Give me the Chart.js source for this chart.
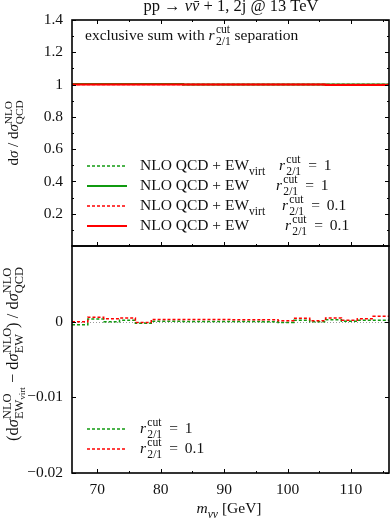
<!DOCTYPE html>
<html>
<head>
<meta charset="utf-8">
<script src="https://cdn.jsdelivr.net/npm/chart.js@4.4.0/dist/chart.umd.min.js"></script>
<style>
  html, body { margin: 0; padding: 0; background: #fff; }
  #wrap { position: relative; width: 390px; height: 519px; }
  #wrap canvas { position: absolute; left: 0; top: 0; }
</style>
</head>
<body>
<div id="wrap">
  <canvas id="upper" width="390" height="519"></canvas>
  <canvas id="lower" width="390" height="519"></canvas>
</div>
<script>
// m_nunu bin edges [GeV]
const binEdges = [66, 68.5, 71, 73.5, 76, 78.5, 81, 83.5, 86, 88.5, 91, 93.5, 96, 98.5, 101, 103.5, 106, 108.5, 111, 113.5, 116];

// upper panel: ratio to NLO QCD
const qcdEwVirtR1  = [1.003, 1.003, 1.003, 1.003, 1.003, 1.003, 1.003, 1.000, 1.000, 1.000, 1.000, 1.000, 1.000, 1.000, 1.000, 1.000, 1.000, 1.000, 1.000, 1.000];
const qcdEwR1      = [1.003, 1.003, 1.003, 1.003, 1.003, 1.003, 1.003, 1.000, 1.000, 1.000, 1.000, 1.000, 1.000, 1.000, 1.000, 1.000, 1.000, 1.000, 1.000, 1.000];
const qcdEwVirtR01 = [1.000, 1.000, 1.000, 1.000, 1.000, 1.000, 1.000, 1.000, 1.000, 1.000, 1.000, 1.000, 1.000, 1.000, 1.000, 1.000, 1.000, 1.000, 1.000, 1.000];
const qcdEwR01     = [1.000, 1.000, 1.000, 1.000, 1.000, 1.000, 1.000, 1.000, 1.000, 1.000, 1.000, 1.000, 1.000, 1.000, 1.000, 1.000, 0.998, 0.998, 0.998, 0.998];

// lower panel: (EW_virt - EW) / QCD
const diffR1  = [-0.0004, 0.00035, 0.0, 0.0002, -0.0002, 0.00005, 0.00005, 0.00003, 0.00003, 0.00003, 0.00003, 0.00003, 0.0, -0.0001, 0.0002, 0.0, 0.00025, 0.00005, 0.0002, 0.0002];
const diffR01 = [0.0, 0.0006, 0.0004, 0.0005, -0.0001, 0.0003, 0.00028, 0.00028, 0.00028, 0.00028, 0.00026, 0.00026, 0.00024, 0.00013, 0.00045, 0.00013, 0.0005, 0.0002, 0.0004, 0.0007];

// axes
const xMajor = [70, 80, 90, 100, 110];
const xMinor = [75, 85, 95, 105, 115];
const yUpperMajor = [0.2, 0.4, 0.6, 0.8, 1, 1.2, 1.4];
const yUpperMinor = [0.1, 0.3, 0.5, 0.7, 0.9, 1.1, 1.3];
const yLowerMajor = [-0.02, -0.01, 0];
const zeroLine = 0;

const GREEN = '#109a10';
const RED = '#ff0000';
const FONT = '"Liberation Serif", "DejaVu Serif", serif';
const TXT = 15.5;

// ---------- small math-text helper ----------
const sup = (t) => ({ t, s: 0.75, dy: -0.42 });
const sub = (t) => ({ t, s: 0.75, dy: 0.3 });
const it = (t) => ({ t, it: true });
const EQ = '\u2009 = \u2009';

function runText(ctx, parts, size, draw, x, y) {
  let cx = x;
  for (const p of parts) {
    if (p.stack) {
      let w = 0;
      for (const row of p.stack) w = Math.max(w, runText(ctx, row, size, draw, cx, y));
      cx += w;
    } else {
      const s = size * (p.s || 1);
      ctx.font = (p.it ? 'italic ' : '') + s + 'px ' + FONT;
      const w = ctx.measureText(p.t).width;
      if (draw) {
        ctx.fillText(p.t, cx, y + (p.dy || 0) * size);
        if (p.bar) ctx.fillRect(cx + w * 0.3, y - s * 0.6, w * 0.65, Math.max(0.8, s * 0.055));
      }
      cx += w;
    }
  }
  return cx - x;
}

function drawText(ctx, parts, size, x, y, align = 'left', rotate = false) {
  ctx.save();
  ctx.fillStyle = '#111';
  ctx.textBaseline = 'alphabetic';
  ctx.textAlign = 'left';
  ctx.translate(x, y);
  if (rotate) ctx.rotate(-Math.PI / 2);
  const w = runText(ctx, parts, size, false, 0, 0);
  const x0 = align === 'center' ? -w / 2 : 0;
  runText(ctx, parts, size, true, x0, 0);
  ctx.restore();
}

const rCut = [it('r'), { t: '\u200a' }, { stack: [[sup('cut')], [sub('2/1')]] }];

// ---------- helpers ----------
// value i covers [binEdges[i], binEdges[i+1]]
function steps(vals) {
  return binEdges.map((e, i) => ({ x: e, y: vals[Math.min(i, vals.length - 1)] }));
}

function fmt(v) {
  return String(v).replace('-', '\u2212');
}

// frame and inward ticks on every side
const frameTicks = {
  id: 'frameTicks',
  afterDatasetsDraw(chart, args, opts) {
    const { ctx, chartArea: a, scales } = chart;
    const xs = scales.x, ys = scales.y;
    ctx.save();
    ctx.strokeStyle = '#000';
    ctx.lineWidth = 1;
    ctx.beginPath();
    const tick = (list, len) => {
      list.forEach(v => {
        const px = Math.round(xs.getPixelForValue(v)) + 0.5;
        if (opts.top) { ctx.moveTo(px, a.top); ctx.lineTo(px, a.top + len); }
        ctx.moveTo(px, a.bottom); ctx.lineTo(px, a.bottom - len);
      });
    };
    const ytick = (list, len) => {
      list.forEach(v => {
        const py = Math.round(ys.getPixelForValue(v)) + 0.5;
        ctx.moveTo(a.left, py); ctx.lineTo(a.left + len, py);
        ctx.moveTo(a.right, py); ctx.lineTo(a.right - len, py);
      });
    };
    tick(xMajor, 4);
    tick(xMinor, 2);
    ytick(opts.yMajor, 4);
    ytick(opts.yMinor || [], 2);
    ctx.stroke();
    ctx.lineWidth = 1.6;
    ctx.strokeRect(a.left, a.top, a.right - a.left, a.bottom - a.top);
    ctx.restore();
  }
};

function legendLine(ctx, ds, y) {
  ctx.save();
  ctx.strokeStyle = ds.borderColor;
  ctx.lineWidth = ds.borderWidth;
  ctx.setLineDash(ds.borderDash || []);
  ctx.beginPath();
  ctx.moveTo(87, y);
  ctx.lineTo(127, y);
  ctx.stroke();
  ctx.restore();
}

const upperTexts = {
  id: 'upperTexts',
  afterDraw(chart) {
    const ctx = chart.ctx;
    const ds = chart.data.datasets;
    drawText(ctx, [{ t: 'pp \u2192 ' }, it('\u03bd'), { t: '\u03bd', it: true, bar: true }, { t: ' + 1, 2j @ 13 TeV' }], 16.5, 231, 11, 'center');
    drawText(ctx, [{ t: 'exclusive sum with ' }, ...rCut, { t: ' separation' }], TXT, 85, 40);
    drawText(ctx, [{ t: 'd' }, it('\u03c3'), { t: ' / d' }, it('\u03c3'), { stack: [[sup('NLO')], [sub('QCD')]] }], 15, 18, 133, 'center', true);
    const rows = [
      { d: ds[3], a: [{ t: 'NLO QCD + EW' }, sub('virt')], b: [...rCut, { t: EQ + '1' }], bx: 279 },
      { d: ds[2], a: [{ t: 'NLO QCD + EW' }], b: [...rCut, { t: EQ + '1' }], bx: 276 },
      { d: ds[1], a: [{ t: 'NLO QCD + EW' }, sub('virt')], b: [...rCut, { t: EQ + '0.1' }], bx: 282 },
      { d: ds[0], a: [{ t: 'NLO QCD + EW' }], b: [...rCut, { t: EQ + '0.1' }], bx: 285 }
    ];
    rows.forEach((r, i) => {
      const y = 166 + i * 20;
      legendLine(ctx, r.d, y);
      drawText(ctx, r.a, TXT, 140, y + 4);
      drawText(ctx, r.b, TXT, r.bx, y + 4);
    });
  }
};

const lowerTexts = {
  id: 'lowerTexts',
  beforeDatasetsDraw(chart) {
    const { ctx, chartArea: a, scales } = chart;
    const py = Math.round(scales.y.getPixelForValue(zeroLine)) + 0.5;
    ctx.save();
    ctx.strokeStyle = '#999';
    ctx.lineWidth = 1;
    ctx.setLineDash([1, 2]);
    ctx.beginPath();
    ctx.moveTo(a.left, py);
    ctx.lineTo(a.right, py);
    ctx.stroke();
    ctx.restore();
  },
  afterDraw(chart) {
    const ctx = chart.ctx;
    const ds = chart.data.datasets;
    drawText(ctx, [it('m'), { t: '\u03bd\u03bd', it: true, s: 0.75, dy: 0.3 }, { t: ' [GeV]' }], TXT, 229, 513, 'center');
    const nlo = (lo) => ({ stack: [[sup('NLO')], [sub(lo)]] });
    drawText(ctx, [
      { t: '(d' }, it('\u03c3'),
      { stack: [[sup('NLO')], [sub('EW'), { t: 'virt', s: 0.55, dy: 0.45 }]] },
      { t: ' \u2212 d' }, it('\u03c3'), nlo('EW'),
      { t: ') / d' }, it('\u03c3'), nlo('QCD')
    ], 16.5, 18, 354, 'center', true);
    [[ds[1], EQ + '1'], [ds[0], EQ + '0.1']].forEach(([d, v], i) => {
      const y = 429 + i * 20;
      legendLine(ctx, d, y);
      drawText(ctx, [...rCut, { t: v }], TXT, 140, y + 4);
    });
  }
};

const tickFont = { family: FONT, size: TXT };
const common = {
  responsive: false,
  animation: false,
  events: [],
  elements: { point: { radius: 0 } },
  plugins: { legend: { display: false }, tooltip: { enabled: false } }
};

new Chart(document.getElementById('upper'), {
  type: 'line',
  data: {
    datasets: [
      { label: 'NLO QCD + EW, r=0.1', data: steps(qcdEwR01), borderColor: RED, borderWidth: 2, stepped: 'before', order: 0 },
      { label: 'NLO QCD + EWvirt, r=0.1', data: steps(qcdEwVirtR01), borderColor: RED, borderWidth: 1.5, borderDash: [3, 2], stepped: 'before', order: 1 },
      { label: 'NLO QCD + EW, r=1', data: steps(qcdEwR1), borderColor: GREEN, borderWidth: 2, stepped: 'before', order: 2 },
      { label: 'NLO QCD + EWvirt, r=1', data: steps(qcdEwVirtR1), borderColor: GREEN, borderWidth: 1.5, borderDash: [3, 2], stepped: 'before', order: 3 }
    ]
  },
  options: {
    ...common,
    layout: { padding: { left: 0, right: 1, top: 20, bottom: 273 } },
    plugins: { ...common.plugins, frameTicks: { top: true, yMajor: yUpperMajor, yMinor: yUpperMinor } },
    scales: {
      x: { type: 'linear', min: 66, max: 116, display: false },
      y: {
        min: 0, max: 1.4,
        afterFit(s) { s.width = 72; },
        afterBuildTicks(s) { s.ticks = yUpperMajor.map(v => ({ value: v })); },
        grid: { display: false, drawTicks: false }, border: { display: false },
        ticks: { font: tickFont, color: '#111', padding: 9, callback: v => fmt(v) }
      }
    }
  },
  plugins: [frameTicks, upperTexts]
});

new Chart(document.getElementById('lower'), {
  type: 'line',
  data: {
    datasets: [
      { label: 'r=0.1', data: steps(diffR01), borderColor: RED, borderWidth: 1.5, borderDash: [3, 2], stepped: 'before' },
      { label: 'r=1', data: steps(diffR1), borderColor: GREEN, borderWidth: 1.5, borderDash: [3, 2], stepped: 'before' }
    ]
  },
  options: {
    ...common,
    layout: { padding: { left: 0, right: 1, top: 246, bottom: 0 } },
    plugins: { ...common.plugins, frameTicks: { top: false, yMajor: yLowerMajor } },
    scales: {
      x: {
        type: 'linear', min: 66, max: 116,
        afterFit(s) { s.height = 46; },
        afterBuildTicks(s) { s.ticks = xMajor.map(v => ({ value: v })); },
        grid: { display: false, drawTicks: false }, border: { display: false },
        ticks: { font: tickFont, color: '#111', padding: 8, maxRotation: 0 }
      },
      y: {
        min: -0.02, max: 0.01,
        afterFit(s) { s.width = 72; },
        afterBuildTicks(s) { s.ticks = yLowerMajor.map(v => ({ value: v })); },
        grid: { display: false, drawTicks: false }, border: { display: false },
        ticks: { font: tickFont, color: '#111', padding: 9, callback: v => fmt(v) }
      }
    }
  },
  plugins: [frameTicks, lowerTexts]
});
</script>
</body>
</html>
